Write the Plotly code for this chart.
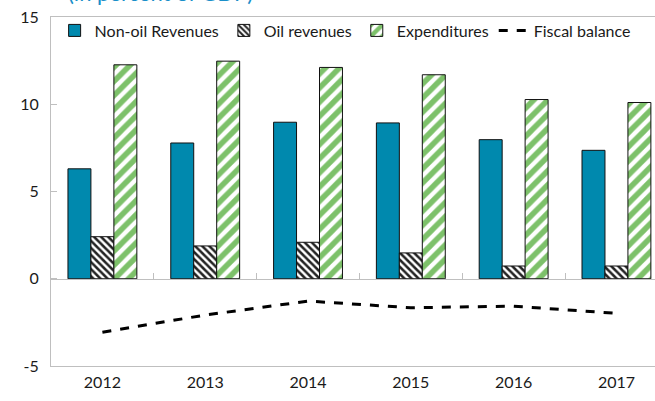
import plotly.graph_objects as go

years = ["2012", "2013", "2014", "2015", "2016", "2017"]
non_oil_revenues = [6.30, 7.78, 8.97, 8.93, 7.97, 7.36]
oil_revenues = [2.41, 1.88, 2.09, 1.48, 0.73, 0.73]
expenditures = [12.26, 12.47, 12.11, 11.69, 10.27, 10.10]
fiscal_balance = [-3.06, -2.08, -1.28, -1.66, -1.57, -1.98]
y_tick_values = [-5, 0, 5, 10, 15]
y_tick_labels = ["-5", "0", "5", "10", "15"]

FONT = "Lato"
AXIS_GRAY = "#BFBFBF"

fig = go.Figure()
fig.add_trace(go.Bar(
    x=years, y=non_oil_revenues, name="Non-oil Revenues",
    marker=dict(color="#0089AE", line=dict(color="#111111", width=1)),
))
fig.add_trace(go.Bar(
    x=years, y=oil_revenues, name="Oil revenues",
    marker=dict(color="white", line=dict(color="#111111", width=1),
                pattern=dict(shape="\\", fgcolor="#222222", bgcolor="white",
                             size=5, solidity=0.5, fgopacity=1)),
))
fig.add_trace(go.Bar(
    x=years, y=expenditures, name="Expenditures",
    marker=dict(color="white", line=dict(color="#111111", width=1),
                pattern=dict(shape="/", fgcolor="#7DC16A", bgcolor="white",
                             size=10, solidity=0.55, fgopacity=1)),
))
fig.add_trace(go.Scatter(
    x=years, y=fiscal_balance, name="Fiscal balance", mode="lines",
    line=dict(color="black", width=3, dash="dash"),
))
# invisible helper trace for the zero-line category axis
fig.add_trace(go.Scatter(
    x=years, y=[0] * len(years), xaxis="x2", mode="markers",
    marker=dict(opacity=0), showlegend=False, hoverinfo="skip",
))

fig.update_layout(
    width=655, height=401,
    margin=dict(l=51, r=0, t=17, b=35, autoexpand=False),
    paper_bgcolor="white", plot_bgcolor="white",
    barmode="group", bargap=0.33, bargroupgap=0,
    font=dict(family=FONT, size=16, color="#1a1a1a"),
    showlegend=True,
    legend=dict(orientation="h", x=0.006, y=1.01, xanchor="left", yanchor="top",
                font=dict(family=FONT, size=16, color="#1a1a1a"),
                bgcolor="rgba(0,0,0,0)", itemwidth=30, tracegroupgap=0),
    xaxis=dict(type="category", range=[-0.5, 5.375], showline=True, linecolor=AXIS_GRAY,
               linewidth=1, mirror=True, ticks="", showgrid=False, automargin=False,
               ticklabelstandoff=2,
               tickfont=dict(family=FONT, size=16, color="#1a1a1a")),
    xaxis2=dict(type="category", overlaying="x", matches="x", anchor="free", position=0.25,
                showline=True, linecolor=AXIS_GRAY, linewidth=1, ticks="inside",
                tickson="boundaries", ticklen=6, tickcolor=AXIS_GRAY,
                showticklabels=False, showgrid=False, automargin=False),
    yaxis=dict(range=[-5, 15], tickvals=y_tick_values, ticktext=y_tick_labels,
               showline=True, linecolor=AXIS_GRAY, linewidth=1, automargin=False,
               ticks="inside", ticklen=6, tickcolor=AXIS_GRAY, showgrid=False,
               ticklabelstandoff=8,
               zeroline=False, tickfont=dict(family=FONT, size=16, color="#1a1a1a")),
    annotations=[dict(text="(in percent of GDP)", xref="paper", yref="paper",
                      x=0.025, y=1.027, xanchor="left", yanchor="bottom", showarrow=False,
                      font=dict(family=FONT, size=22, color="#1A8FC9"))],
)

fig.write_html("out.html", config={"displayModeBar": False},
               post_script="document.body.style.margin='0';document.body.style.overflow='hidden';")
